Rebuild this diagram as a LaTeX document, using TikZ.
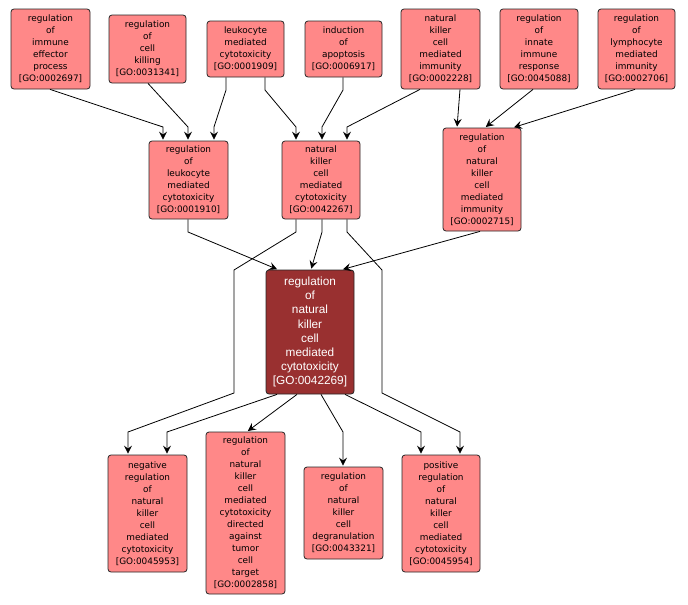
\documentclass[tikz,border=0pt]{standalone}
\usepackage{fontspec}
\usetikzlibrary{arrows.meta,calc}
\newfontfamily\boxfnt{DejaVu Sans}
\newfontfamily\centfnt{Liberation Sans}
\definecolor{boxfill}{RGB}{255,136,136}
\definecolor{mainfill}{RGB}{153,48,48}
\tikzset{
  box/.style={draw=black!85, fill=boxfill, rounded corners=3pt, line width=0.8pt,
    align=center, inner sep=0pt, font=\boxfnt\fontsize{8.9}{12}\selectfont},
  mainbox/.style={box, fill=mainfill, text=white, font=\centfnt\fontsize{11.8}{14.1}\selectfont},
  edge/.style={draw=black, line width=0.8pt, shorten >=1pt, -{Stealth[length=8pt,width=8pt,inset=3pt]}}
}
\begin{document}
\begin{tikzpicture}[x=1pt,y=-1pt]
\useasboundingbox[fill=white] (0,0) rectangle (688,605);
% top row
\node[box, minimum width=79pt, minimum height=80pt] (n1) at (50.5,49) {regulation\\of\\immune\\effector\\process\\{[GO:0002697]}};
\node[box, minimum width=77pt, minimum height=68pt] (n2) at (147.5,49) {regulation\\of\\cell\\killing\\{[GO:0031341]}};
\node[box, minimum width=77pt, minimum height=56pt] (n3) at (245.5,49) {leukocyte\\mediated\\cytotoxicity\\{[GO:0001909]}};
\node[box, minimum width=77pt, minimum height=56pt] (n4) at (343.5,49) {induction\\of\\apoptosis\\{[GO:0006917]}};
\node[box, minimum width=79pt, minimum height=80pt] (n5) at (440.5,49) {natural\\killer\\cell\\mediated\\immunity\\{[GO:0002228]}};
\node[box, minimum width=78pt, minimum height=80pt] (n6) at (539,49) {regulation\\of\\innate\\immune\\response\\{[GO:0045088]}};
\node[box, minimum width=77pt, minimum height=80pt] (n7) at (636.5,49) {regulation\\of\\lymphocyte\\mediated\\immunity\\{[GO:0002706]}};
% middle row
\node[box, minimum width=79pt, minimum height=78pt] (m1) at (188.5,180) {regulation\\of\\leukocyte\\mediated\\cytotoxicity\\{[GO:0001910]}};
\node[box, minimum width=78pt, minimum height=78pt] (m2) at (321,180) {natural\\killer\\cell\\mediated\\cytotoxicity\\{[GO:0042267]}};
\node[box, minimum width=78pt, minimum height=103pt] (m3) at (482,179.5) {regulation\\of\\natural\\killer\\cell\\mediated\\immunity\\{[GO:0002715]}};
% central
\node[mainbox, minimum width=88pt, minimum height=124pt] (c) at (310,332) {regulation\\of\\natural\\killer\\cell\\mediated\\cytotoxicity\\{[GO:0042269]}};
% bottom row
\node[box, minimum width=79pt, minimum height=117pt] (b1) at (147.5,513.5) {negative\\regulation\\of\\natural\\killer\\cell\\mediated\\cytotoxicity\\{[GO:0045953]}};
\node[box, minimum width=79pt, minimum height=162pt] (b2) at (245.5,513) {regulation\\of\\natural\\killer\\cell\\mediated\\cytotoxicity\\directed\\against\\tumor\\cell\\target\\{[GO:0002858]}};
\node[box, minimum width=79pt, minimum height=92pt] (b3) at (343.5,513) {regulation\\of\\natural\\killer\\cell\\degranulation\\{[GO:0043321]}};
\node[box, minimum width=78pt, minimum height=117pt] (b4) at (441,513.5) {positive\\regulation\\of\\natural\\killer\\cell\\mediated\\cytotoxicity\\{[GO:0045954]}};
% edges top -> middle
\draw[edge] (n1.south -| 50,0) -- (163,127) -- (m1.north -| 163,0);
\draw[edge] (n2.south -| 148,0) -- (188,127) -- (m1.north -| 188,0);
\draw[edge] (n3.south -| 226,0) -- (226,90) -- (214,127) -- (m1.north -| 214,0);
\draw[edge] (n3.south -| 265,0) -- (265,90) -- (296,127) -- (m2.north -| 296,0);
\draw[edge] (n4.south -| 343,0) -- (343,90) -- (322,127) -- (m2.north -| 322,0);
\draw[edge] (n5.south -| 420,0) -- (347,127) -- (m2.north -| 347,0);
\draw[edge] (n5.south -| 460,0) -- (m3.north -| 457,0);
\draw[edge] (n6.south -| 533,0) -- (m3.north -| 485,0);
\draw[edge] (n7.south -| 635,0) -- (m3.north -| 513,0);
% middle -> central
\draw[edge] (m1.south -| 188,0) -- (188,232) -- (c.north -| 278,0);
\draw[edge] (m2.south -| 322,0) -- (322,232) -- (c.north -| 311,0);
\draw[edge] (m3.south -| 480,0) -- (c.north -| 342,0);
% long edges
\draw[edge] (m2.south -| 296,0) -- (296,232) -- (234,270) -- (234,393) -- (128,432) -- (b1.north -| 128,0);
\draw[edge] (m2.south -| 347,0) -- (347,232) -- (382,270) -- (382,393) -- (460,432) -- (b4.north -| 460,0);
% central -> bottom
\draw[edge] (c.south -| 277,0) -- (167,432) -- (b1.north -| 167,0);
\draw[edge] (c.south -| 297,0) -- (b2.north -| 247,0);
\draw[edge] (c.south -| 321,0) -- (343,432) -- (b3.north -| 343,0);
\draw[edge] (c.south -| 345,0) -- (421,432) -- (b4.north -| 421,0);
\end{tikzpicture}
\end{document}
